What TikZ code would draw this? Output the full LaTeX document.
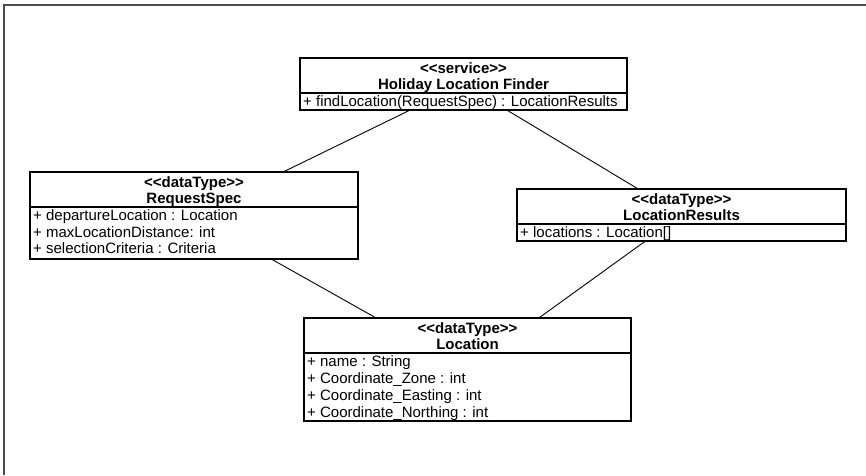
\documentclass[tikz,border=0pt]{standalone}
\usepackage{fontspec}
% family without TeX ligatures, so that << and >> stay as typed
\newfontfamily\umlfont{Liberation Sans}
\usetikzlibrary{calc}
\begin{document}
\begin{tikzpicture}[x=1pt,y=-1pt,
  classbox/.style={draw, line width=1.1pt, inner sep=0pt, outer sep=0pt},
  head/.style={anchor=base, inner sep=0pt, font=\umlfont\fontsize{15}{17}\selectfont\bfseries},
  attr/.style={anchor=base west, inner sep=0pt, font=\umlfont\fontsize{15}{17}\selectfont},
  divider/.style={line width=1.1pt},
  assoc/.style={line width=0.9pt},
  frame/.style={line width=1.6pt, draw=black!70}]
\useasboundingbox (0,0) rectangle (866,475);
\draw[frame] (4,475) -- (4,5) -- (866,5);

% service: Holiday Location Finder
\node[classbox, minimum width=327pt, minimum height=52pt] (svc) at (463.5,84) {};
\draw[divider] ($(svc.north west)+(0,35)$) -- ($(svc.north east)+(0,35)$);
\node[head] (svcS) at ($(svc.north)+(0,15)$) {<<service>>};
\node[head] (svcN) at ($(svc.north)+(0,31)$) {Holiday Location Finder};
\node[attr] (svcA1) at ($(svc.north west)+(3,48.5)$) {+ findLocation(RequestSpec) : LocationResults};

% data type: RequestSpec
\node[classbox, minimum width=328pt, minimum height=87pt] (req) at (194,215.5) {};
\draw[divider] ($(req.north west)+(0,35)$) -- ($(req.north east)+(0,35)$);
\node[head] (reqS) at ($(req.north)+(0,15)$) {<<dataType>>};
\node[head] (reqN) at ($(req.north)+(0,31)$) {RequestSpec};
\node[attr] (reqA1) at ($(req.north west)+(3,48.5)$) {+ departureLocation : Location};
\node[attr] (reqA2) at ($(req.north west)+(3,65)$) {+ maxLocationDistance: int};
\node[attr] (reqA3) at ($(req.north west)+(3,81.5)$) {+ selectionCriteria : Criteria};

% data type: LocationResults
\node[classbox, minimum width=329pt, minimum height=52pt] (res) at (681.5,215) {};
\draw[divider] ($(res.north west)+(0,35)$) -- ($(res.north east)+(0,35)$);
\node[head] (resS) at ($(res.north)+(0,15)$) {<<dataType>>};
\node[head] (resN) at ($(res.north)+(0,31)$) {LocationResults};
\node[attr] (resA1) at ($(res.north west)+(3,48.5)$) {+ locations : Location[]};

% data type: Location
\node[classbox, minimum width=327pt, minimum height=103pt] (loc) at (467.5,369.5) {};
\draw[divider] ($(loc.north west)+(0,35)$) -- ($(loc.north east)+(0,35)$);
\node[head] (locS) at ($(loc.north)+(0,15)$) {<<dataType>>};
\node[head] (locN) at ($(loc.north)+(0,31)$) {Location};
\node[attr] (locA1) at ($(loc.north west)+(3,48.5)$) {+ name : String};
\node[attr] (locA2) at ($(loc.north west)+(3,65.5)$) {+ Coordinate\_Zone : int};
\node[attr] (locA3) at ($(loc.north west)+(3,82.5)$) {+ Coordinate\_Easting : int};
\node[attr] (locA4) at ($(loc.north west)+(3,99.5)$) {+ Coordinate\_Northing : int};

% associations
\draw[assoc] (svc) -- (req);
\draw[assoc] (svc) -- (res);
\draw[assoc] (req) -- (loc);
\draw[assoc] (res) -- (loc);
\end{tikzpicture}
\end{document}
